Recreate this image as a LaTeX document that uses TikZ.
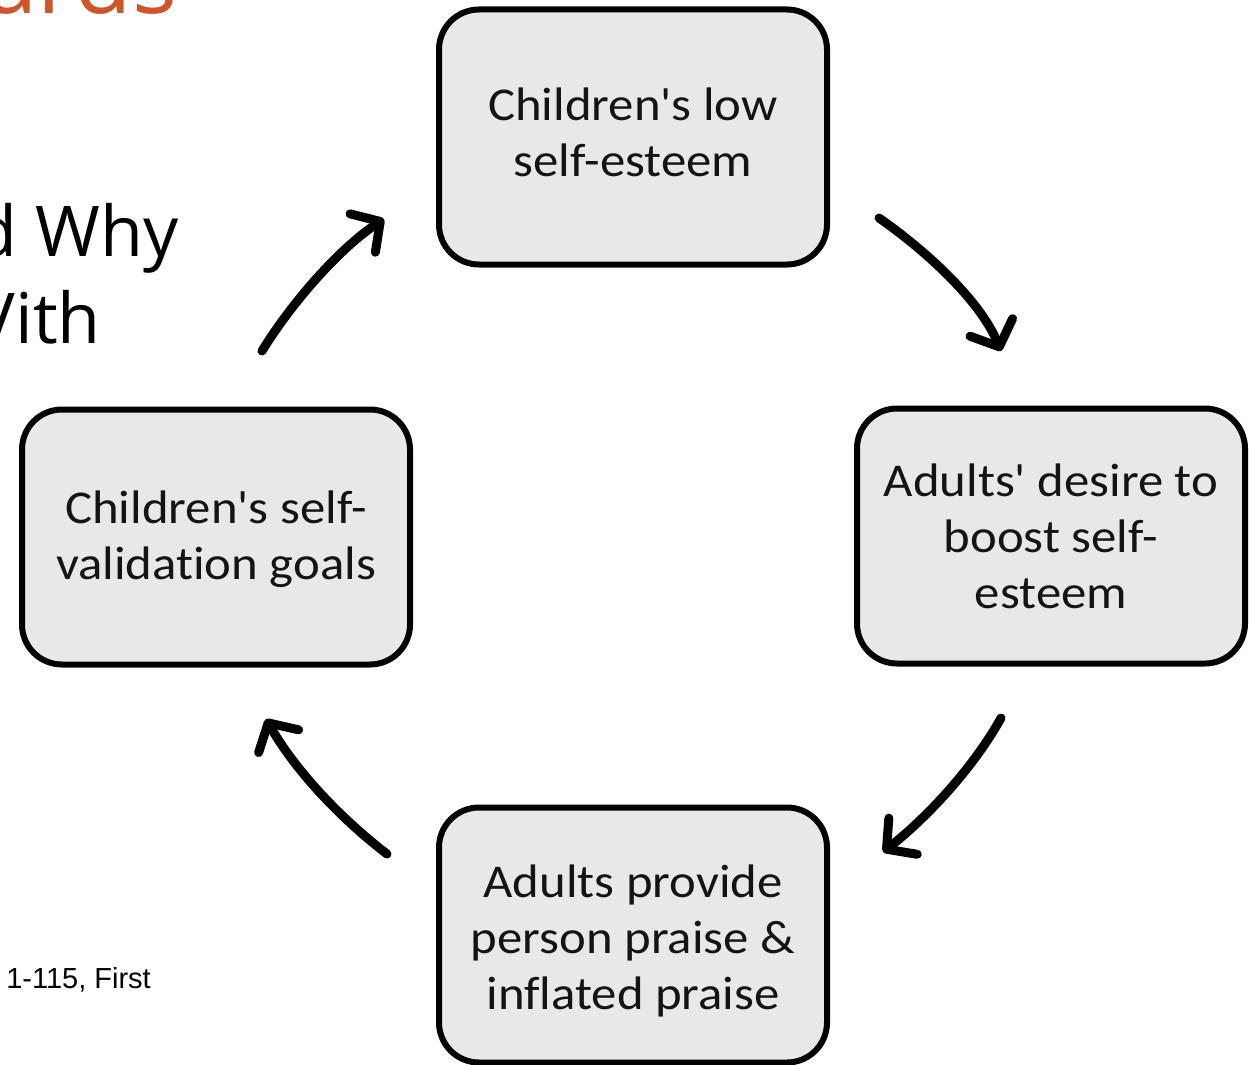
\documentclass[tikz,border=0pt]{standalone}
\usepackage{fontspec}
\setmainfont{Carlito}
\newfontfamily\boxfont[FakeStretch=1.08,Ligatures=NoCommon]{Carlito}
\newfontfamily\slidefont{Open Sans}
\newfontfamily\citefont{Liberation Sans}
\usetikzlibrary{arrows.meta}
\definecolor{boxfill}{HTML}{E8E8E8}
\definecolor{boxtext}{HTML}{141414}
\definecolor{titleorange}{HTML}{CF5429}
\begin{document}
\begin{tikzpicture}[x=1pt,y=-1pt,
  cyclebox/.style={draw=black, line width=6pt, fill=boxfill, rounded corners=40pt,
    minimum width=388pt, minimum height=255pt, inner sep=0pt, align=center,
    text=boxtext, font=\boxfont\fontsize{47}{56}\selectfont},
  cyclearrow/.style={line width=9pt, line cap=round,
    -{Straight Barb[length=21pt,width=46pt,round]}},
  slidetext/.style={inner sep=0pt, anchor=base east}
]
\useasboundingbox (0,0) rectangle (1253,1065);
\clip (0,0) rectangle (1253,1065);

% cut-off slide text behind the diagram
\node[slidetext, text=titleorange, font=\slidefont\fontsize{94}{100}\selectfont] (title) at (177,14) {Towards};
\node[slidetext, text=black, font=\slidefont\fontsize{70}{86}\selectfont] (line1) at (179,256) {d Why};
\node[slidetext, text=black, font=\slidefont\fontsize{70}{86}\selectfont] (line2) at (101,343) {Vith};
\node[slidetext, text=black, font=\citefont\fontsize{29}{34}\selectfont] (cite) at (151,988) {1-115, First};

% boxes
\node[cyclebox] (top) at (633,137) {Children's low\\self-esteem\rule[-10pt]{0pt}{10pt}};
\node[cyclebox] (right) at (1051,536) {Adults' desire to\\boost self-\\esteem};
\node[cyclebox] (bottom) at (633,935) {\rule{0pt}{44pt}Adults provide\\person praise \&\\inflated praise};
\node[cyclebox] (left) at (216,537) {\rule{0pt}{38pt}Children's self-\\validation goals};

% arrow end points
\coordinate (a1s) at (262,351);
\coordinate (a1e) at (384,219);
\coordinate (a2s) at (879,218);
\coordinate (a2e) at (1001,351);
\coordinate (a3s) at (1001,718);
\coordinate (a3e) at (883,852);
\coordinate (a4s) at (387,854);
\coordinate (a4e) at (266,719);

\draw[cyclearrow] (a1s) .. controls (292,302) and (340,248) .. (a1e);
\draw[cyclearrow] (a2s) .. controls (925,250) and (980,300) .. (a2e);
\draw[cyclearrow] (a3s) .. controls (975,765) and (930,815) .. (a3e);
\draw[cyclearrow] (a4s) .. controls (340,818) and (295,770) .. (a4e);
\end{tikzpicture}
\end{document}
